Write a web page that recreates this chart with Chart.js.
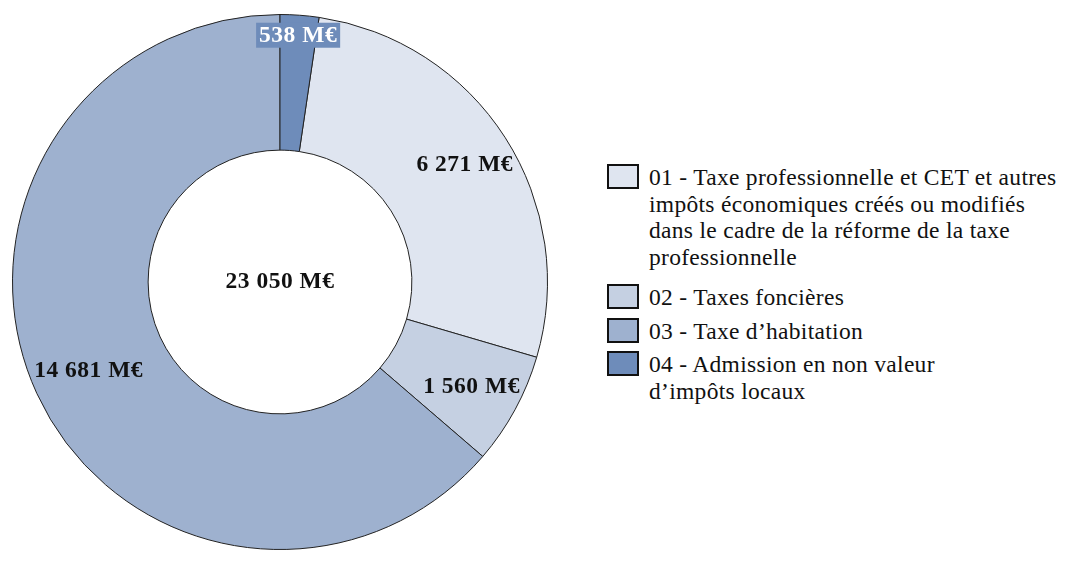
<!DOCTYPE html>
<html lang="fr">
<head>
<meta charset="utf-8">
<title>Impôts locaux</title>
<script src="https://cdn.jsdelivr.net/npm/chart.js@4.4.1/dist/chart.umd.min.js"></script>
<style>
  html, body { margin: 0; padding: 0; background: #fff; }
  #wrap { position: relative; width: 1080px; height: 563px; overflow: hidden; }
  #box { position: absolute; left: 0; top: 0; width: 560px; height: 563px; }
  #legende {
    position: absolute; left: 607px; top: 164px;
    font-family: 'Liberation Serif', serif; font-size: 23.5px; color: #111;
    letter-spacing: 0.3px;
  }
  .item { display: flex; align-items: flex-start; margin-bottom: 7px; }
  .item:first-child { margin-bottom: 14px; }
  .carre {
    flex: none; width: 28px; height: 21px; border: 2px solid #111;
    margin-right: 10px;
  }
  .texte { line-height: 26.5px; margin-top: 0px; }
</style>
</head>
<body>
<div id="wrap">
  <div id="box"><canvas id="c"></canvas></div>
  <div id="legende"></div>
</div>
<script>
const categories = [
  ['01 - Taxe professionnelle et CET et autres', 'impôts économiques créés ou modifiés', 'dans le cadre de la réforme de la taxe', 'professionnelle'],
  ['02 - Taxes foncières'],
  ['03 - Taxe d\u2019habitation'],
  ['04 - Admission en non valeur', 'd\u2019impôts locaux'],
];
const valeurs = [6271, 1560, 14681, 538];
const couleurs = ['#dfe5f0', '#c5d0e2', '#9eb1cf', '#6e8cba'];

const total = valeurs.reduce((a, b) => a + b, 0);
const fmt = (v) => v.toString().replace(/\B(?=(\d{3})+(?!\d))/g, '\u00a0') + ' M€';

// le dernier secteur (04) finit à midi
const depart = (valeurs[3] / total) * 360;

// distance des étiquettes au centre, en part du rayon extérieur
const rayons = [0.82, 0.815, 0.787, 0.925];

const etiquettes = {
  id: 'etiquettes',
  afterDatasetsDraw(chart) {
    const ctx = chart.ctx;
    const meta = chart.getDatasetMeta(0);
    ctx.save();
    ctx.font = 'bold 23.5px "Liberation Serif", serif';
    ctx.letterSpacing = '0.5px';
    ctx.textAlign = 'center';
    ctx.textBaseline = 'middle';
    meta.data.forEach((arc, i) => {
      const p = arc.getProps(['x', 'y', 'startAngle', 'endAngle', 'outerRadius'], true);
      const a = (p.startAngle + p.endAngle) / 2;
      const x = p.x + Math.cos(a) * p.outerRadius * rayons[i];
      const y = p.y + Math.sin(a) * p.outerRadius * rayons[i];
      const txt = fmt(valeurs[i]);
      if (i === 3) {
        const w = ctx.measureText(txt).width + 6;
        ctx.fillStyle = couleurs[3];
        ctx.fillRect(x - w / 2, y - 12.5, w, 25);
        ctx.fillStyle = '#fff';
      } else {
        ctx.fillStyle = '#111';
      }
      ctx.fillText(txt, x, y + 1);
    });
    const c = meta.data[0];
    ctx.fillStyle = '#111';
    ctx.fillText(fmt(total), c.x, c.y);
    ctx.restore();
  },
};

new Chart(document.getElementById('c'), {
  type: 'doughnut',
  data: {
    labels: categories.map((l) => l.join(' ')),
    datasets: [{
      data: valeurs,
      backgroundColor: couleurs,
      borderColor: '#222',
      borderWidth: 1,
    }],
  },
  options: {
    responsive: true,
    maintainAspectRatio: false,
    animation: false,
    cutout: '49.3%',
    rotation: depart,
    layout: { padding: { left: 12, right: 12, top: 14, bottom: 13 } },
    plugins: {
      legend: { display: false },
      tooltip: { enabled: false },
    },
  },
  plugins: [etiquettes],
});

// légende à droite
const leg = document.getElementById('legende');
categories.forEach((lignes, i) => {
  const item = document.createElement('div');
  item.className = 'item';
  const carre = document.createElement('div');
  carre.className = 'carre';
  carre.style.background = couleurs[i];
  const texte = document.createElement('div');
  texte.className = 'texte';
  texte.innerHTML = lignes.join('<br>');
  item.appendChild(carre);
  item.appendChild(texte);
  leg.appendChild(item);
});
</script>
</body>
</html>
